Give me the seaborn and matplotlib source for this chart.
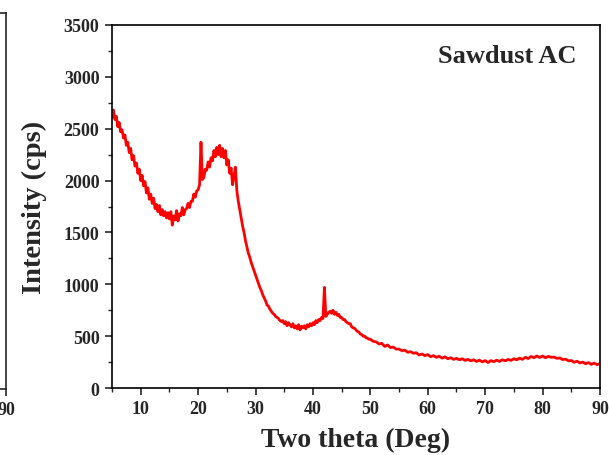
import numpy as np
import pandas as pd
import matplotlib
matplotlib.use("Agg")
import matplotlib.pyplot as plt
import seaborn as sns
from matplotlib.ticker import MultipleLocator

# XRD pattern of sawdust activated carbon
# 5 - 49.75 deg every 0.25 deg (noisy part), 50 - 90 deg every 0.5 deg
theta_low = np.arange(5.0, 50.0, 0.25)
intensity_low = [
    2610, 2680, 2590, 2620, 2520, 2560, 2470, 2490,   # 5 - 6.75
    2410, 2440, 2340, 2370, 2270, 2310, 2200, 2240,   # 7 - 8.75
    2140, 2170, 2070, 2110, 2000, 2050, 1950, 1990,   # 9 - 10.75
    1880, 1930, 1820, 1870, 1780, 1830, 1730, 1770,   # 11 - 12.75
    1700, 1760, 1670, 1720, 1660, 1700, 1640, 1690,   # 13 - 14.75
    1630, 1700, 1570, 1660, 1620, 1710, 1610, 1680,   # 15 - 16.75
    1660, 1740, 1670, 1720, 1730, 1780, 1740, 1800,   # 17 - 18.75
    1800, 1870, 1840, 1900, 1910, 1960, 2370, 2010,   # 19 - 20.75
    2030, 2110, 2100, 2180, 2130, 2220, 2190, 2290,   # 21 - 22.75
    2230, 2320, 2250, 2340, 2230, 2310, 2220, 2290,   # 23 - 24.75
    2150, 2200, 2070, 2120, 1960, 2040, 2130, 1900,   # 25 - 26.75
    1800, 1720, 1640, 1560, 1500, 1420, 1360, 1300,   # 27 - 28.75
    1260, 1210, 1170, 1130, 1090, 1050, 1010, 970,    # 29 - 30.75
    940, 900, 870, 840, 800, 790, 760, 740,           # 31 - 32.75
    720, 710, 690, 680, 670, 650, 640, 650,           # 33 - 34.75
    620, 640, 600, 630, 610, 590, 620, 580,           # 35 - 36.75
    600, 570, 610, 560, 595, 580, 600, 570,           # 37 - 38.75
    610, 590, 620, 600, 630, 610, 650, 630,           # 39 - 40.75
    660, 650, 680, 670, 970, 690, 710, 730,           # 41 - 42.75
    740, 720, 750, 710, 730, 700, 710, 680,           # 43 - 44.75
    680, 660, 660, 640, 630, 620, 620, 590,           # 45 - 46.75
    580, 575, 560, 545, 540, 520, 515, 500,           # 47 - 48.75
    500, 485, 480, 470,                               # 49 - 49.75
]
theta_high = np.arange(50.0, 90.01, 0.5)
intensity_high = [
    470, 450, 445, 425, 430, 400, 415, 390, 395, 375,   # 50 - 54.5
    375, 360, 365, 345, 350, 335, 340, 318, 328, 312,   # 55 - 59.5
    322, 302, 312, 296, 306, 288, 300, 282, 292, 276,   # 60 - 64.5
    286, 272, 282, 266, 276, 262, 272, 256, 268, 252,   # 65 - 69.5
    264, 246, 264, 254, 268, 256, 272, 262, 276, 266,   # 70 - 74.5
    282, 272, 288, 276, 296, 284, 304, 292, 308, 294,   # 75 - 79.5
    308, 292, 305, 296, 298, 286, 290, 274, 278, 262,   # 80 - 84.5
    265, 248, 258, 242, 250, 234, 245, 228, 240, 225,   # 85 - 89.5
    235,                                                # 90
]

x_ticks = [10, 20, 30, 40, 50, 60, 70, 80, 90]
y_ticks = [0, 500, 1000, 1500, 2000, 2500, 3000, 3500]
sample_label = "Sawdust AC"

df = pd.DataFrame({
    "two_theta": np.concatenate([theta_low, theta_high]),
    "intensity": intensity_low + intensity_high,
})

sns.set_style("ticks")
plt.rcParams["font.family"] = ["Liberation Serif", "DejaVu Serif"]
plt.rcParams["font.weight"] = "bold"

fig = plt.figure(figsize=(6.09, 4.56), dpi=100)
ax = fig.add_axes([112 / 609, 1 - 389 / 456, 488 / 609, 363 / 456])

sns.lineplot(data=df, x="two_theta", y="intensity", ax=ax, color="#ff0000",
             lw=2.0, estimator=None, sort=False)

ax.set_xlim(5, 90)
ax.set_ylim(0, 3500)
ax.set_xticks(x_ticks)
ax.set_yticks(y_ticks)
ax.xaxis.set_minor_locator(MultipleLocator(5))
ax.yaxis.set_minor_locator(MultipleLocator(250))
ax.tick_params(which="major", direction="out", length=5, width=1.2, labelsize=13, pad=4)
ax.tick_params(which="minor", direction="out", length=3, width=1.0)
for lbl in ax.get_xticklabels() + ax.get_yticklabels():
    lbl.set_fontweight("bold")
for sp in ax.spines.values():
    sp.set_visible(True)
    sp.set_linewidth(1.2)
    sp.set_color("black")

ax.set_xlabel("Two theta (Deg)", fontsize=20, fontweight="bold", labelpad=7)
ax.set_ylabel("Intensity (cps)", fontsize=20.5, fontweight="bold", labelpad=12)
ax.text(0.81, 0.915, sample_label, transform=ax.transAxes, ha="center", va="center",
        fontsize=19, fontweight="bold")

# edge of the neighbouring panel, cut off on the left
ax0 = fig.add_axes([-0.5, 1 - 390 / 456, 0.5 + 6 / 609, 376 / 456])
ax0.set_xlim(0, 90)
ax0.set_ylim(0, 1)
ax0.set_xticks([90])
ax0.set_xticklabels(["90"], fontsize=13, fontweight="bold")
ax0.set_yticks([])
ax0.tick_params(direction="out", length=5, width=1.2)
for sp in ax0.spines.values():
    sp.set_linewidth(1.2)

fig.savefig("out.png", dpi=100)
